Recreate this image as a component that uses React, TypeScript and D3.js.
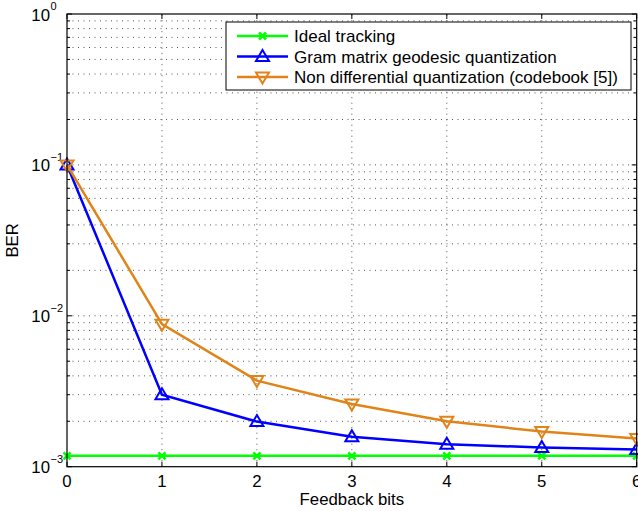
import React from 'react';
import * as d3 from 'd3';

const bits = [0, 1, 2, 3, 4, 5, 6];
const idealBER = [1.18e-3, 1.18e-3, 1.18e-3, 1.18e-3, 1.18e-3, 1.18e-3, 1.18e-3];
const gramBER = [0.1, 3.0e-3, 1.99e-3, 1.58e-3, 1.41e-3, 1.34e-3, 1.3e-3];
const nonDiffBER = [0.1, 8.8e-3, 3.72e-3, 2.6e-3, 2.0e-3, 1.71e-3, 1.54e-3];
const xTicks = [0, 1, 2, 3, 4, 5, 6];
const yDecades = [-3, -2, -1, 0];
const legendLabels = [
  'Ideal tracking',
  'Gram matrix geodesic quantization',
  'Non differential quantization (codebook [5])',
];

const W = 638;
const H = 511;
const margin = { left: 67, right: 1, top: 14, bottom: 44.3 };
const FONT = '"Liberation Sans", Arial, Helvetica, sans-serif';

const series = [
  { name: legendLabels[0], values: idealBER, color: '#00ff00', marker: 'x' },
  { name: legendLabels[1], values: gramBER, color: '#0000ff', marker: 'up' },
  { name: legendLabels[2], values: nonDiffBER, color: '#e0841a', marker: 'down' },
];

const Marker = ({ type, x, y, color }: { type: string; x: number; y: number; color: string }) => {
  if (type === 'x') {
    const s = 3.5;
    return (
      <path
        d={`M${x - s},${y - s}L${x + s},${y + s}M${x - s},${y + s}L${x + s},${y - s}`}
        stroke={color}
        strokeWidth={2.5}
        fill="none"
      />
    );
  }
  const dir = type === 'up' ? 1 : -1;
  const pts = [
    [x, y - 6.5 * dir],
    [x + 6.5, y + 4.5 * dir],
    [x - 6.5, y + 4.5 * dir],
  ];
  return (
    <polygon
      points={pts.map(p => p.join(',')).join(' ')}
      stroke={color}
      strokeWidth={2}
      fill="none"
    />
  );
};

export default function App() {
  const x = d3.scaleLinear().domain([0, 6]).range([margin.left, W - margin.right - 0.3]);
  const y = d3.scaleLog().domain([1e-3, 1]).range([H - margin.bottom, margin.top]);
  const [x0, x1] = x.range();
  const [y0, y1] = y.range();

  const minorY: number[] = [];
  yDecades.slice(0, -1).forEach(d => {
    for (let k = 2; k <= 9; k++) minorY.push(k * Math.pow(10, d));
  });
  const majorY = yDecades.map(d => Math.pow(10, d));

  const line = d3
    .line<number>()
    .x((_, i) => x(bits[i]))
    .y(v => y(v));

  const dotted = { stroke: '#555', strokeWidth: 1, strokeDasharray: '1,4.5' };

  return (
    <svg
      width={W}
      height={H}
      style={{ position: 'absolute', left: 0, top: 0, background: '#fff' }}
      fontFamily={FONT}
    >
      <rect x={0} y={0} width={W} height={H} fill="#fff" />

      {/* grid */}
      {xTicks.slice(1, -1).map(t => (
        <line key={`gx${t}`} x1={x(t)} x2={x(t)} y1={y0} y2={y1} {...dotted} />
      ))}
      {[...minorY, ...majorY.slice(1, -1)].map(v => (
        <line key={`gy${v}`} x1={x0} x2={x1} y1={y(v)} y2={y(v)} {...dotted} />
      ))}

      {/* ticks */}
      {xTicks.map(t => (
        <g key={`tx${t}`}>
          <line x1={x(t)} x2={x(t)} y1={y0} y2={y0 - 5} stroke="#000" />
          <line x1={x(t)} x2={x(t)} y1={y1} y2={y1 + 5} stroke="#000" />
          <text x={x(t)} y={487} textAnchor="middle" fontSize={16.8}>
            {t}
          </text>
        </g>
      ))}
      {majorY.map(v => (
        <g key={`ty${v}`}>
          <line x1={x0} x2={x0 + 5} y1={y(v)} y2={y(v)} stroke="#000" />
          <line x1={x1} x2={x1 - 5} y1={y(v)} y2={y(v)} stroke="#000" />
        </g>
      ))}
      {minorY.map(v => (
        <g key={`tm${v}`}>
          <line x1={x0} x2={x0 + 3} y1={y(v)} y2={y(v)} stroke="#000" />
          <line x1={x1} x2={x1 - 3} y1={y(v)} y2={y(v)} stroke="#000" />
        </g>
      ))}
      {yDecades.map(d => (
        <g key={`ly${d}`}>
          <text x={50} y={y(Math.pow(10, d)) + 6.5} textAnchor="end" fontSize={16.8}>
            10
          </text>
          <text x={50.5} y={y(Math.pow(10, d)) - 4} fontSize={11}>
            {d === 0 ? '0' : `\u2212${-d}`}
          </text>
        </g>
      ))}

      {/* series */}
      {series.map(s => (
        <g key={s.name}>
          <path d={line(s.values) || ''} fill="none" stroke={s.color} strokeWidth={2.5} />
          {s.values.map((v, i) => (
            <Marker key={i} type={s.marker} x={x(bits[i])} y={y(v)} color={s.color} />
          ))}
        </g>
      ))}

      {/* axes box */}
      <rect x={x0} y={y1} width={x1 - x0} height={y0 - y1} fill="none" stroke="#000" strokeWidth={1.2} />

      {/* legend */}
      <rect x={226} y={22} width={405} height={68} fill="#fff" stroke="#000" strokeWidth={1} />
      {series.map((s, i) => {
        const cy = 36 + i * 20.5;
        return (
          <g key={`lg${i}`}>
            <line x1={237} x2={288} y1={cy} y2={cy} stroke={s.color} strokeWidth={2.5} />
            <Marker type={s.marker} x={262.5} y={cy} color={s.color} />
            <text x={294} y={cy + 6} fontSize={17}>
              {s.name}
            </text>
          </g>
        );
      })}

      {/* axis labels */}
      <text x={(x0 + x1) / 2} y={505} textAnchor="middle" fontSize={16.8}>
        Feedback bits
      </text>
      <text
        transform={`translate(18,${(y0 + y1) / 2}) rotate(-90)`}
        textAnchor="middle"
        fontSize={16.8}
      >
        BER
      </text>
    </svg>
  );
}
